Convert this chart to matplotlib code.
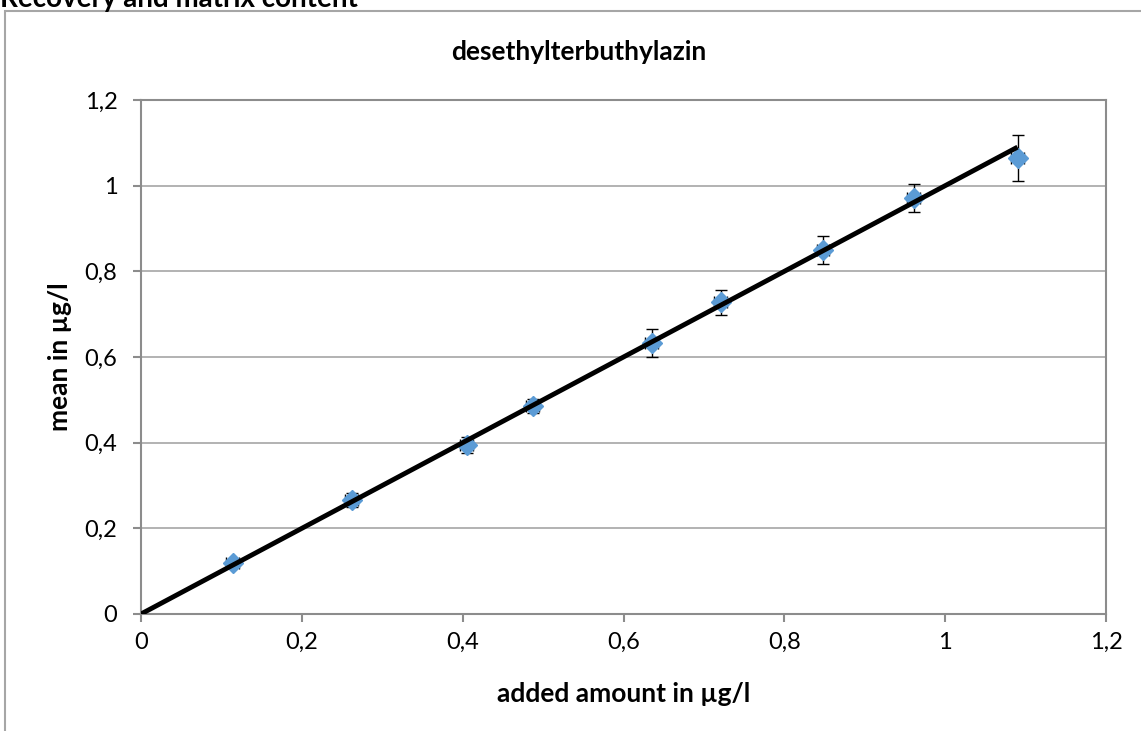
import matplotlib
matplotlib.use("Agg")
import matplotlib.pyplot as plt
from matplotlib.patches import Rectangle

plt.rcParams['font.family'] = ['Lato', 'DejaVu Sans']

# data
added = [0.114, 0.262, 0.405, 0.487, 0.635, 0.721, 0.848, 0.961, 1.090]
mean = [0.119, 0.266, 0.395, 0.486, 0.633, 0.728, 0.850, 0.971, 1.065]
y_err = [0.006, 0.017, 0.019, 0.017, 0.033, 0.029, 0.033, 0.033, 0.053]
x_err = [0.008, 0.008, 0.008, 0.008, 0.008, 0.008, 0.008, 0.008, 0.008]
line_x = [0, 1.09]
line_y = [0, 1.09]
ticks = [0, 0.2, 0.4, 0.6, 0.8, 1.0, 1.2]
tick_labels = ['0', '0,2', '0,4', '0,6', '0,8', '1', '1,2']

W, H = 1141, 731
fig = plt.figure(figsize=(W / 100, H / 100), dpi=100)
ax = fig.add_axes([141 / W, 1 - 614 / H, 965 / W, 514 / H])

# outer chart frame (runs off the right/bottom edge like the reference)
fig.patches.append(Rectangle((5 / W, -0.1), 1.2, 1 - 11 / H + 0.1,
                             transform=fig.transFigure, fill=False,
                             edgecolor='#a6a6a6', linewidth=1.5))

ax.errorbar(added, mean, yerr=y_err, xerr=x_err, fmt='D', color='#5b9bd5',
            markersize=10, ecolor='black', elinewidth=1, capsize=4.5,
            capthick=1, zorder=3)
ax.plot(line_x, line_y, color='black', linewidth=3.5, zorder=4,
        solid_capstyle='butt')

ax.set_xlim(0, 1.2)
ax.set_ylim(0, 1.2)
ax.set_xticks(ticks)
ax.set_xticklabels(tick_labels)
ax.set_yticks(ticks)
ax.set_yticklabels(tick_labels)
ax.yaxis.grid(True, color='#a6a6a6', linewidth=1.2)
ax.set_axisbelow(True)
for s in ax.spines.values():
    s.set_color('#8c8c8c')
    s.set_linewidth(1.5)
ax.tick_params(axis='both', color='#8c8c8c', length=6, width=1.5,
               labelsize=17, labelcolor='black')
ax.tick_params(axis='x', pad=7)
ax.tick_params(axis='y', pad=11)

ax.set_xlabel('added amount in µg/l', fontsize=19, fontweight='bold')
ax.set_ylabel('mean in µg/l', fontsize=19, fontweight='bold')
ax.xaxis.set_label_coords(0.5, -0.133)
ax.yaxis.set_label_coords(-0.0715, 0.5)

fig.text(579 / W, 1 - 52 / H, 'desethylterbuthylazin', ha='center', va='center',
         fontsize=19, fontweight='bold')
fig.text(0 / W, 1 - 7 / H, 'Recovery and matrix content', ha='left',
         va='baseline', fontsize=20, fontweight='bold')

fig.savefig('out.png', dpi=100)
